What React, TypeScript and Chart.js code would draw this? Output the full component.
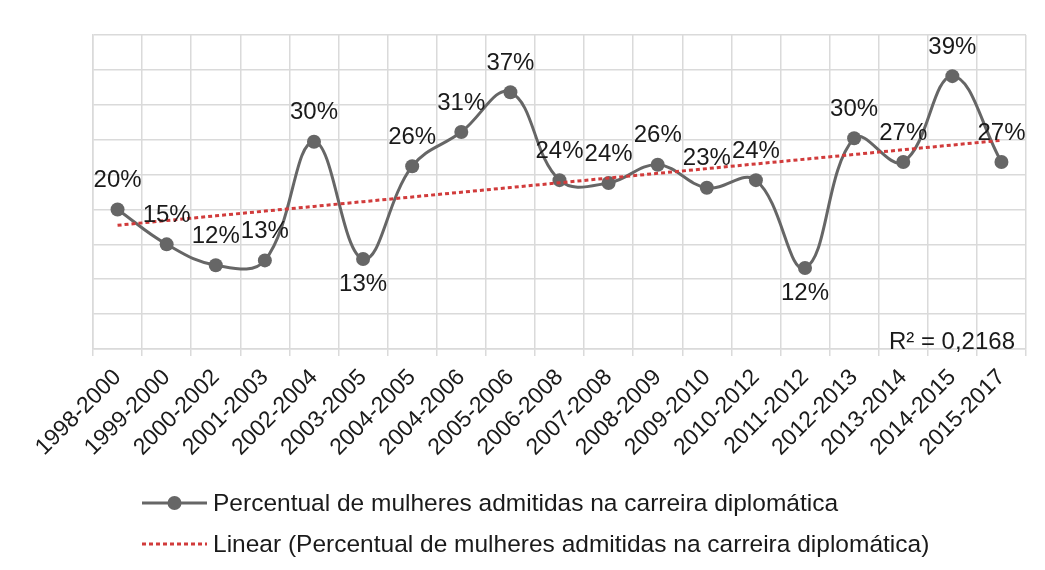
import React, { useEffect, useRef } from 'react';
import { Chart, registerables } from 'chart.js';

Chart.register(...registerables);

// ---- data ----
const categories = [
  '1998-2000', '1999-2000', '2000-2002', '2001-2003', '2002-2004', '2003-2005',
  '2004-2005', '2004-2006', '2005-2006', '2006-2008', '2007-2008', '2008-2009',
  '2009-2010', '2010-2012', '2011-2012', '2012-2013', '2013-2014', '2014-2015', '2015-2017',
];
const womenPct = [
  20.0, 15.0, 12.0, 12.7, 29.7, 12.9, 26.2, 31.1, 36.8, 24.2,
  23.8, 26.4, 23.1, 24.2, 11.6, 30.2, 26.8, 39.1, 26.8,
];
const yMin = 0;
const yMax = 45;
const yStep = 5;
const seriesLabel = 'Percentual de mulheres admitidas na carreira diplomática';
const trendLabel = 'Linear (Percentual de mulheres admitidas na carreira diplomática)';
const r2Label = 'R² = 0,2168';
const labelsBelowIdx = [5, 14];

// least-squares linear trend of the series (Excel "Linear" trendline)
function linearTrend(vals: number[]): number[] {
  const n = vals.length;
  const mx = (n - 1) / 2;
  const my = vals.reduce((a, b) => a + b, 0) / n;
  let sxy = 0;
  let sxx = 0;
  vals.forEach((v, i) => {
    sxy += (i - mx) * (v - my);
    sxx += (i - mx) * (i - mx);
  });
  const slope = sxy / sxx;
  return vals.map((_, i) => my + slope * (i - mx));
}

const FONT = '"Liberation Sans", Arial, Helvetica, sans-serif';
const GREY = '#666666';
const RED = '#d13b3b';
const TEXT = '#1a1a1a';
const GRID = '#dadada';

const labelPlugin = {
  id: 'pointLabels',
  afterDatasetsDraw(chart: any) {
    const ctx = chart.ctx;
    const meta = chart.getDatasetMeta(0);
    ctx.save();
    ctx.font = `24px ${FONT}`;
    ctx.fillStyle = TEXT;
    ctx.textAlign = 'center';
    ctx.textBaseline = 'middle';
    meta.data.forEach((el: any, i: number) => {
      const below = labelsBelowIdx.includes(i);
      const txt = Math.round(womenPct[i]) + '%';
      ctx.fillText(txt, el.x, below ? el.y + 25 : el.y - 29);
    });
    // R² text
    const ca = chart.chartArea;
    ctx.font = `24px ${FONT}`;
    ctx.textAlign = 'right';
    ctx.fillText(r2Label, ca.right - 11, ca.bottom - 7);
    ctx.restore();
  },
};

const legendPlugin = {
  id: 'customLegend',
  afterDraw(chart: any) {
    const ctx = chart.ctx;
    const x0 = 142;
    const x1 = 207;
    const rows = [503, 544];
    ctx.save();
    // row 1: grey line with marker
    ctx.strokeStyle = GREY;
    ctx.lineWidth = 3;
    ctx.beginPath();
    ctx.moveTo(x0, rows[0]);
    ctx.lineTo(x1, rows[0]);
    ctx.stroke();
    ctx.fillStyle = GREY;
    ctx.beginPath();
    ctx.arc((x0 + x1) / 2, rows[0], 7, 0, Math.PI * 2);
    ctx.fill();
    // row 2: red dotted
    ctx.strokeStyle = RED;
    ctx.lineWidth = 3;
    ctx.setLineDash([4, 3]);
    ctx.beginPath();
    ctx.moveTo(x0, rows[1]);
    ctx.lineTo(x1, rows[1]);
    ctx.stroke();
    ctx.setLineDash([]);
    ctx.fillStyle = TEXT;
    ctx.font = `24.5px ${FONT}`;
    ctx.textAlign = 'left';
    ctx.textBaseline = 'middle';
    ctx.fillText(chart.data.datasets[0].label, x1 + 6, rows[0] + 1);
    ctx.fillText(chart.data.datasets[1].label, x1 + 6, rows[1] + 1);
    ctx.restore();
  },
};

export default function App() {
  const ref = useRef<HTMLCanvasElement | null>(null);
  useEffect(() => {
    if (!ref.current) return;
    const chart = new Chart(ref.current, {
      type: 'line',
      data: {
        labels: categories,
        datasets: [
          {
            label: seriesLabel,
            data: womenPct,
            borderColor: GREY,
            backgroundColor: GREY,
            borderWidth: 3,
            tension: 0.4,
            pointRadius: 7,
            pointBorderWidth: 0,
            pointBackgroundColor: GREY,
            fill: false,
            order: 1,
          },
          {
            label: trendLabel,
            data: linearTrend(womenPct),
            borderColor: RED,
            borderWidth: 3,
            borderDash: [4, 3],
            pointRadius: 0,
            tension: 0,
            fill: false,
            order: 0,
          },
        ],
      },
      options: {
        animation: false,
        responsive: true,
        maintainAspectRatio: false,
        layout: { padding: { left: 93, right: 19, top: 35, bottom: 0 } },
        plugins: {
          legend: { display: false },
          tooltip: { enabled: false },
          title: { display: false },
        },
        scales: {
          x: {
            offset: true,
            grid: {
              offset: true,
              color: GRID,
              lineWidth: 1.5,
              drawTicks: true,
              tickLength: 7,
            },
            border: { color: GRID, width: 1.5 },
            ticks: {
              maxRotation: 45,
              minRotation: 45,
              autoSkip: false,
              color: TEXT,
              font: { family: FONT, size: 23 },
              padding: 8,
            },
            afterFit: (s: any) => {
              s.height = 570 - 349;
            },
          },
          y: {
            min: yMin,
            max: yMax,
            ticks: { display: false, stepSize: yStep },
            grid: { color: GRID, lineWidth: 1.5, drawTicks: false },
            border: { color: GRID, width: 1.5 },
            afterFit: (s: any) => {
              s.width = 0;
            },
          },
        },
      },
      plugins: [labelPlugin, legendPlugin],
    });
    return () => chart.destroy();
  }, []);
  return (
    <div style={{ position: 'absolute', left: 0, top: 0, width: 1045, height: 570, background: '#fff' }}>
      <canvas ref={ref} />
    </div>
  );
}
